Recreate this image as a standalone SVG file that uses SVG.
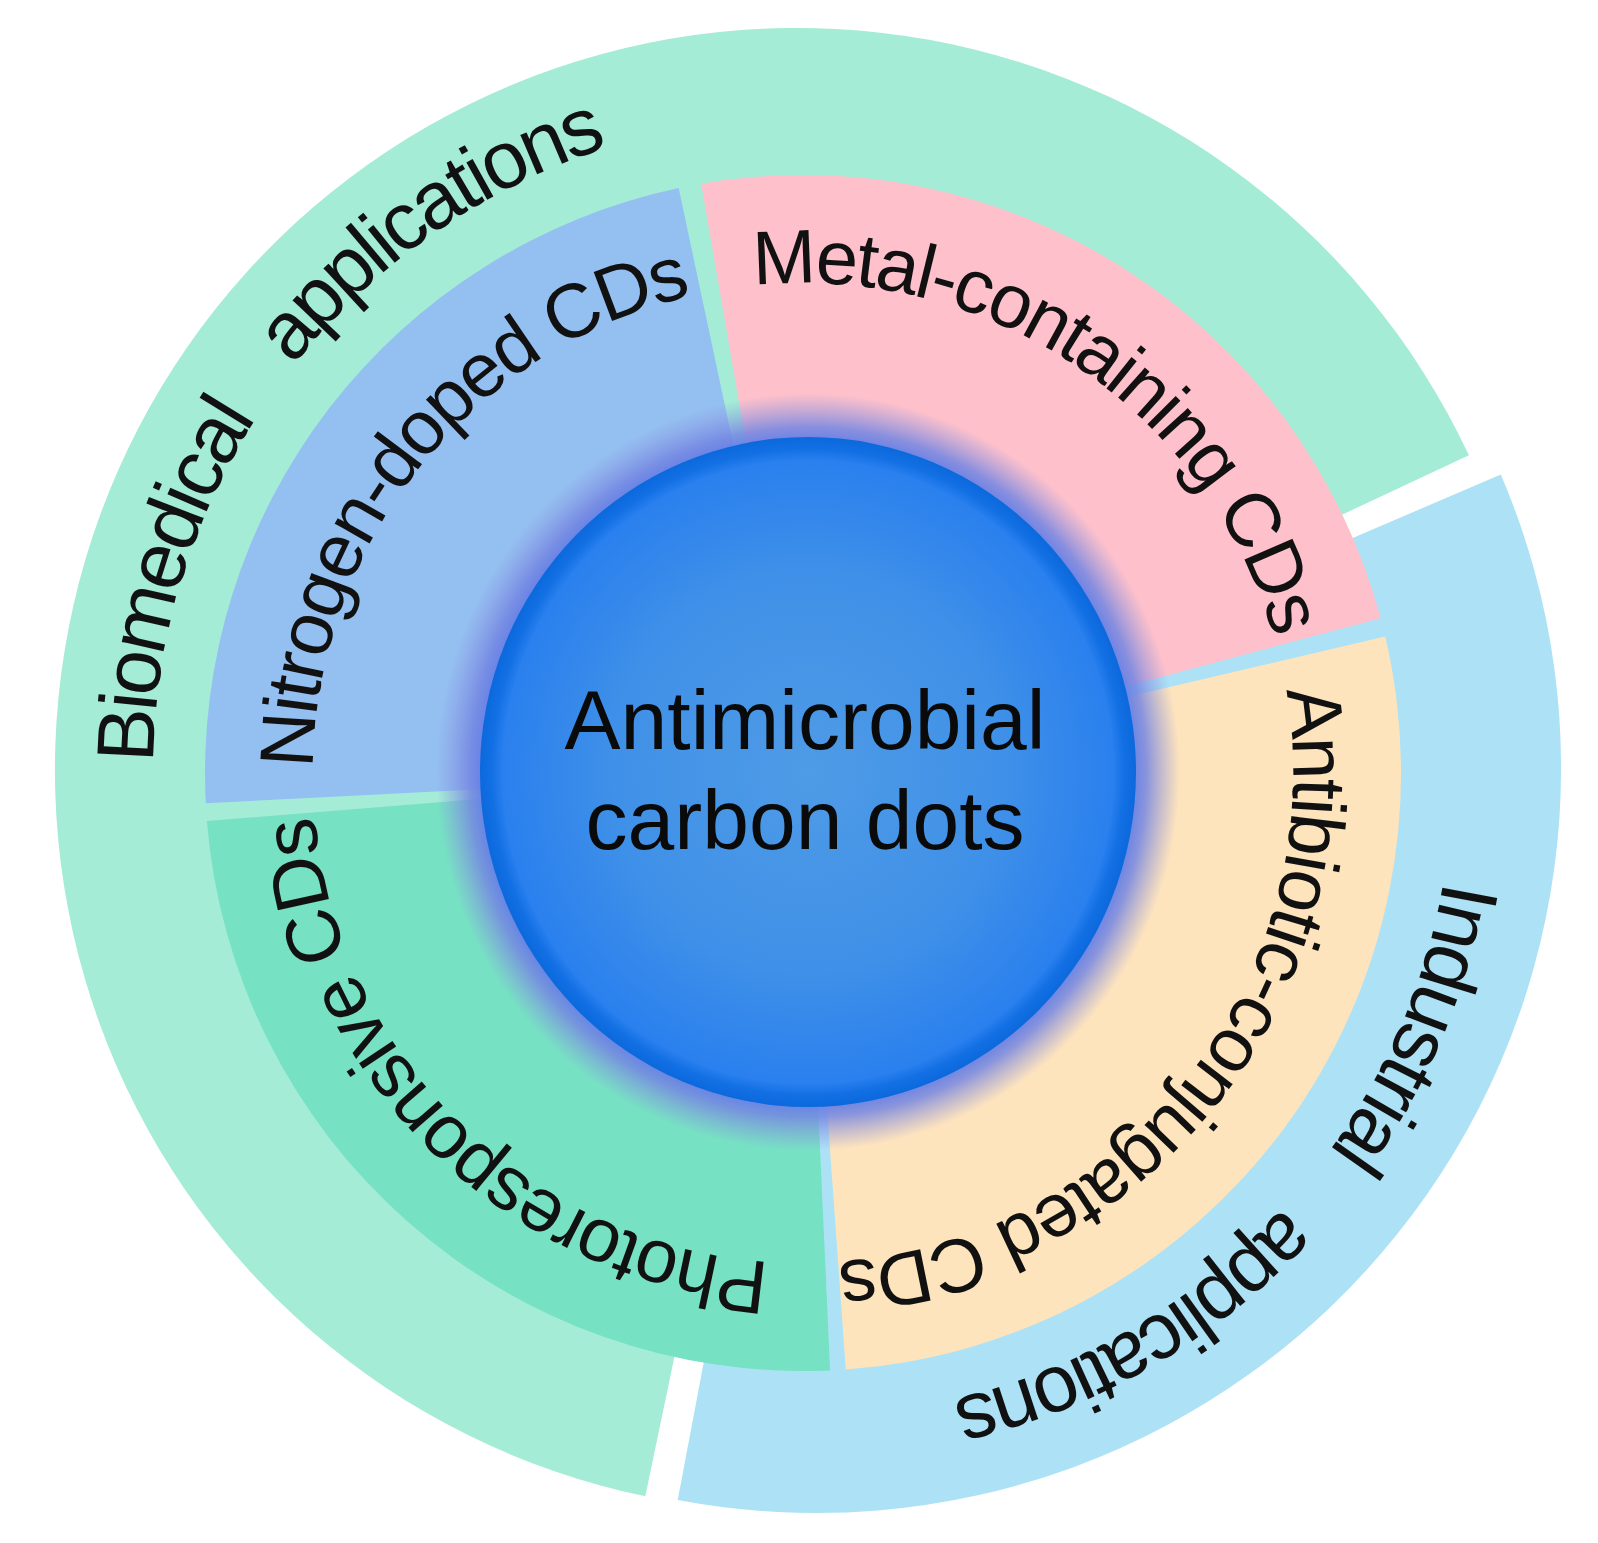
<svg xmlns="http://www.w3.org/2000/svg" xmlns:xlink="http://www.w3.org/1999/xlink" width="1598" height="1543" viewBox="0 0 1598 1543">
<defs>
<style>
.lbl{font-family:"Liberation Sans",Arial,sans-serif;fill:#111;text-anchor:middle}
.inner{font-size:76px;letter-spacing:-2.3px}
.outer{font-size:81px;letter-spacing:-3.5px}
.core{font-family:"Liberation Sans",Arial,sans-serif;font-size:84px;fill:#0a0a0a;text-anchor:middle}
</style>
<radialGradient id="glow" cx="50%" cy="50%" r="50%">
<stop offset="0.86" stop-color="#5D7CE8" stop-opacity="1"/>
<stop offset="0.91" stop-color="#7486E2" stop-opacity="0.85"/>
<stop offset="1" stop-color="#8A8FE0" stop-opacity="0"/>
</radialGradient>
<radialGradient id="core" cx="50%" cy="50%" r="50%">
<stop offset="0" stop-color="#4E9BE6"/>
<stop offset="0.6" stop-color="#3F90E8"/>
<stop offset="0.93" stop-color="#2A80EE"/>
<stop offset="0.965" stop-color="#1270E4"/>
<stop offset="1" stop-color="#0B69DC"/>
</radialGradient>
<path id="p-bio1" d="M 733.9 1421.8 A 655 655 0 1 1 1100.3 184.8"/>
<path id="p-bio2" d="M 344.1 1233.4 A 655 655 0 1 1 1402.1 495.2"/>
<path id="p-ind1" d="M 950.9 142.1 A 645 645 0 1 1 458.6 1313.2"/>
<path id="p-ind2" d="M 1299.9 353.8 A 645 645 0 1 1 203.0 994.8"/>
<path id="p-n" d="M 568.4 1203.2 A 490 490 0 1 1 1170.5 449.0"/>
<path id="p-m" d="M 355.4 573.7 A 490 490 0 1 1 1155.5 1113.4"/>
<path id="p-a" d="M 1033.1 340.4 A 490 490 0 1 1 438.9 1100.9"/>
<path id="p-p" d="M 1207.8 1049.1 A 490 490 0 1 1 517.1 375.1"/>
</defs>
<rect width="1598" height="1543" fill="#ffffff"/>
<g id="biomedical-applications">
<path d="M 797 770 L 645.3 1496.3 A 742 742 0 1 1 1468.9 455.3 Z" fill="#A5ECD7"/>
</g>
<g id="industrial-applications">
<path d="M 816 768 L 1500.8 474.5 A 745 745 0 0 1 677.7 1500.1 Z" fill="#ADE2F6"/>
</g>
<g id="nitrogen-doped">
<path d="M 803 773 L 205.8 803.3 A 598 598 0 0 1 678.7 188.1 Z" fill="#94C0F1"/>
</g>
<g id="metal-containing">
<path d="M 803 773 L 701.2 183.7 A 598 598 0 0 1 1380.6 618.2 Z" fill="#FEC1CB"/>
</g>
<g id="antibiotic-conjugated">
<path d="M 803 773 L 1385.2 636.4 A 598 598 0 0 1 845.8 1369.5 Z" fill="#FEE4BD"/>
</g>
<g id="photoresponsive">
<path d="M 803 773 L 830.1 1370.4 A 598 598 0 0 1 206.9 821.0 Z" fill="#77E1C4"/>
</g>
<g id="labels">
<text class="lbl outer"><textPath href="#p-bio1" xlink:href="#p-bio1" startOffset="50%">Biomedical</textPath></text>
<text class="lbl outer"><textPath href="#p-bio2" xlink:href="#p-bio2" startOffset="50%">applications</textPath></text>
<text class="lbl outer"><textPath href="#p-ind1" xlink:href="#p-ind1" startOffset="50%">Industrial</textPath></text>
<text class="lbl outer"><textPath href="#p-ind2" xlink:href="#p-ind2" startOffset="50%">applications</textPath></text>
<text class="lbl inner"><textPath href="#p-n" xlink:href="#p-n" startOffset="50%">Nitrogen-doped CDs</textPath></text>
<text class="lbl inner"><textPath href="#p-m" xlink:href="#p-m" startOffset="50%">Metal-containing CDs</textPath></text>
<text class="lbl inner"><textPath href="#p-a" xlink:href="#p-a" startOffset="50%">Antibiotic-conjugated CDs</textPath></text>
<text class="lbl inner"><textPath href="#p-p" xlink:href="#p-p" startOffset="50%">Photoresponsive CDs</textPath></text>
</g>
<g id="center">
<ellipse cx="808" cy="772" rx="372" ry="379" fill="url(#glow)"/>
<ellipse cx="808" cy="772" rx="328" ry="335" fill="url(#core)"/>
<text class="core" x="805" y="749">Antimicrobial</text>
<text class="core" x="805" y="849">carbon dots</text>
</g>
<g id="connectors"/>
</svg>
